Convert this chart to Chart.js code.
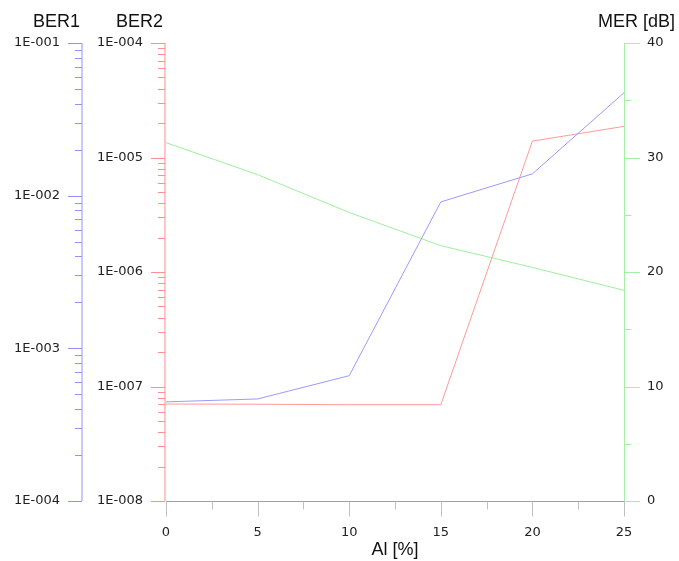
<!DOCTYPE html>
<html>
<head>
<meta charset="utf-8">
<script src="https://cdn.jsdelivr.net/npm/chart.js@4"></script>
<style>
  html, body { margin: 0; padding: 0; background: #fff; }
  #wrap { width: 679px; height: 561px; }
</style>
</head>
<body>
<div id="wrap"><canvas id="chart"></canvas></div>
<script>
// data
const alPercent = [0, 5, 10, 15, 20, 25];
const ber1Values = [4.46e-4, 4.66e-4, 6.62e-4, 9.1e-3, 1.39e-2, 4.72e-2];
const ber2Values = [7.03e-8, 7.0e-8, 6.93e-8, 6.93e-8, 1.39e-5, 1.87e-5];
const merValues = [31.3, 28.5, 25.2, 22.3, 20.4, 18.4];

// tick labels
const xTicks = [0, 5, 10, 15, 20, 25];
const ber1Ticks = [1e-4, 1e-3, 1e-2, 1e-1];
const ber2Ticks = [1e-8, 1e-7, 1e-6, 1e-5, 1e-4];
const merTicks = [0, 10, 20, 30, 40];

const tickFont = { family: 'DejaVu Sans', size: 13 };
const titleFont = { family: 'Liberation Sans', size: 18 };

function expLabel(v) {
    const e = Math.round(Math.log10(v));
    return '1E' + (e < 0 ? '-' : '+') + String(Math.abs(e)).padStart(3, '0');
}

function fixedTicks(values) {
    return scale => { scale.ticks = values.map(v => ({ value: v })); };
}

function toPoints(ys) {
    return alPercent.map((x, i) => ({ x: x, y: ys[i] }));
}

// minor ticks for log axes: 2..9 of each decade
function logMinor(majors) {
    const out = [];
    for (let i = 0; i < majors.length - 1; i++) {
        for (let k = 2; k <= 9; k++) out.push(majors[i] * k);
    }
    return out;
}

function midPoints(majors) {
    const out = [];
    for (let i = 0; i < majors.length - 1; i++) out.push((majors[i] + majors[i + 1]) / 2);
    return out;
}

// draws the axis line and tick marks of a vertical axis
function drawVAxis(ctx, scale, x, dir, majors, minors, lineColor, lineWidth, tickColor) {
    ctx.strokeStyle = lineColor;
    ctx.lineWidth = lineWidth;
    ctx.beginPath();
    ctx.moveTo(x, scale.top);
    ctx.lineTo(x, scale.bottom);
    ctx.stroke();

    ctx.strokeStyle = tickColor;
    ctx.lineWidth = 1;
    ctx.beginPath();
    majors.forEach(v => {
        const y = Math.round(scale.getPixelForValue(v)) + 0.5;
        ctx.moveTo(x, y);
        ctx.lineTo(x + dir * 14, y);
    });
    minors.forEach(v => {
        const y = Math.round(scale.getPixelForValue(v)) + 0.5;
        ctx.moveTo(x, y);
        ctx.lineTo(x + dir * 7, y);
    });
    ctx.stroke();
}

const axesPlugin = {
    id: 'axes',
    beforeDatasetsDraw(chart) {
        const ctx = chart.ctx;
        const s = chart.scales;
        ctx.save();

        drawVAxis(ctx, s.y1, s.y1.right - 1, -1, ber1Ticks, logMinor(ber1Ticks), '#c8c8ff', 2, '#9090ff');
        drawVAxis(ctx, s.y2, s.y2.right - 1, -1, ber2Ticks, logMinor(ber2Ticks), '#ffc4c4', 2, '#ff9090');
        drawVAxis(ctx, s.mer, s.mer.left + 0.5, 1, merTicks, midPoints(merTicks), '#a4f0a4', 1, '#a4f0a4');
        // longer major ticks on the MER side
        ctx.strokeStyle = '#a4f0a4';
        ctx.beginPath();
        merTicks.forEach(v => {
            const y = Math.round(s.mer.getPixelForValue(v)) + 0.5;
            ctx.moveTo(s.mer.left, y);
            ctx.lineTo(s.mer.left + 16, y);
        });
        ctx.stroke();

        // x axis
        const xa = s.x;
        const yb = Math.round(xa.top) + 0.5;
        ctx.strokeStyle = '#a0a0a0';
        ctx.lineWidth = 1;
        ctx.beginPath();
        ctx.moveTo(xa.left, yb);
        ctx.lineTo(xa.right, yb);
        ctx.stroke();
        ctx.strokeStyle = '#c0c0c0';
        ctx.beginPath();
        xTicks.forEach(v => {
            const x = Math.round(xa.getPixelForValue(v)) + 0.5;
            ctx.moveTo(x, yb);
            ctx.lineTo(x, yb + 15);
        });
        midPoints(xTicks).forEach(v => {
            const x = Math.round(xa.getPixelForValue(v)) + 0.5;
            ctx.moveTo(x, yb);
            ctx.lineTo(x, yb + 8);
        });
        ctx.stroke();

        // axis titles on top
        ctx.font = '18px "Liberation Sans"';
        ctx.fillStyle = '#111';
        ctx.textAlign = 'right';
        ctx.textBaseline = 'alphabetic';
        ctx.fillText('BER1', s.y1.right - 3, 27);
        ctx.fillText('BER2', s.y2.right - 3, 27);
        ctx.fillText('MER [dB]', s.mer.right - 4, 27);
        ctx.restore();
    }
};

const ctx = document.getElementById('chart').getContext('2d');
new Chart(ctx, {
    type: 'line',
    data: {
        datasets: [
            { label: 'BER1', data: toPoints(ber1Values), yAxisID: 'y1', borderColor: '#9a9aff', borderWidth: 1, pointRadius: 0, tension: 0 },
            { label: 'BER2', data: toPoints(ber2Values), yAxisID: 'y2', borderColor: '#ff9a9a', borderWidth: 1, pointRadius: 0, tension: 0 },
            { label: 'MER', data: toPoints(merValues), yAxisID: 'mer', borderColor: '#9eee9e', borderWidth: 1, pointRadius: 0, tension: 0 }
        ]
    },
    options: {
        responsive: true,
        maintainAspectRatio: false,
        animation: false,
        layout: { padding: { top: 43, left: 0, right: 0, bottom: 0 } },
        plugins: { legend: { display: false }, tooltip: { enabled: false } },
        scales: {
            x: {
                type: 'linear',
                min: 0,
                max: 25,
                afterBuildTicks: fixedTicks(xTicks),
                afterFit: s => { s.height = 60; },
                grid: { display: false, drawTicks: false },
                border: { display: false },
                ticks: { font: tickFont, color: '#222', padding: 24, maxRotation: 0, autoSkip: false, callback: v => String(v) },
                title: { display: true, text: 'Al [%]', font: titleFont, color: '#111', padding: 0 }
            },
            y1: {
                type: 'logarithmic',
                position: 'left',
                weight: 2,
                min: 1e-4,
                max: 1e-1,
                afterBuildTicks: fixedTicks(ber1Ticks),
                afterFit: s => { s.width = 83; },
                grid: { display: false, drawTicks: false },
                border: { display: false },
                ticks: { font: tickFont, color: '#222', padding: 23, autoSkip: false, callback: v => expLabel(v) }
            },
            y2: {
                type: 'logarithmic',
                position: 'left',
                weight: 1,
                min: 1e-8,
                max: 1e-4,
                afterBuildTicks: fixedTicks(ber2Ticks),
                afterFit: s => { s.width = 83; },
                grid: { display: false, drawTicks: false },
                border: { display: false },
                ticks: { font: tickFont, color: '#222', padding: 23, autoSkip: false, callback: v => expLabel(v) }
            },
            mer: {
                type: 'linear',
                position: 'right',
                min: 0,
                max: 40,
                afterBuildTicks: fixedTicks(merTicks),
                afterFit: s => { s.width = 55; },
                grid: { display: false, drawTicks: false },
                border: { display: false },
                ticks: { font: tickFont, color: '#222', padding: 23, autoSkip: false }
            }
        }
    },
    plugins: [axesPlugin]
});
</script>
</body>
</html>
